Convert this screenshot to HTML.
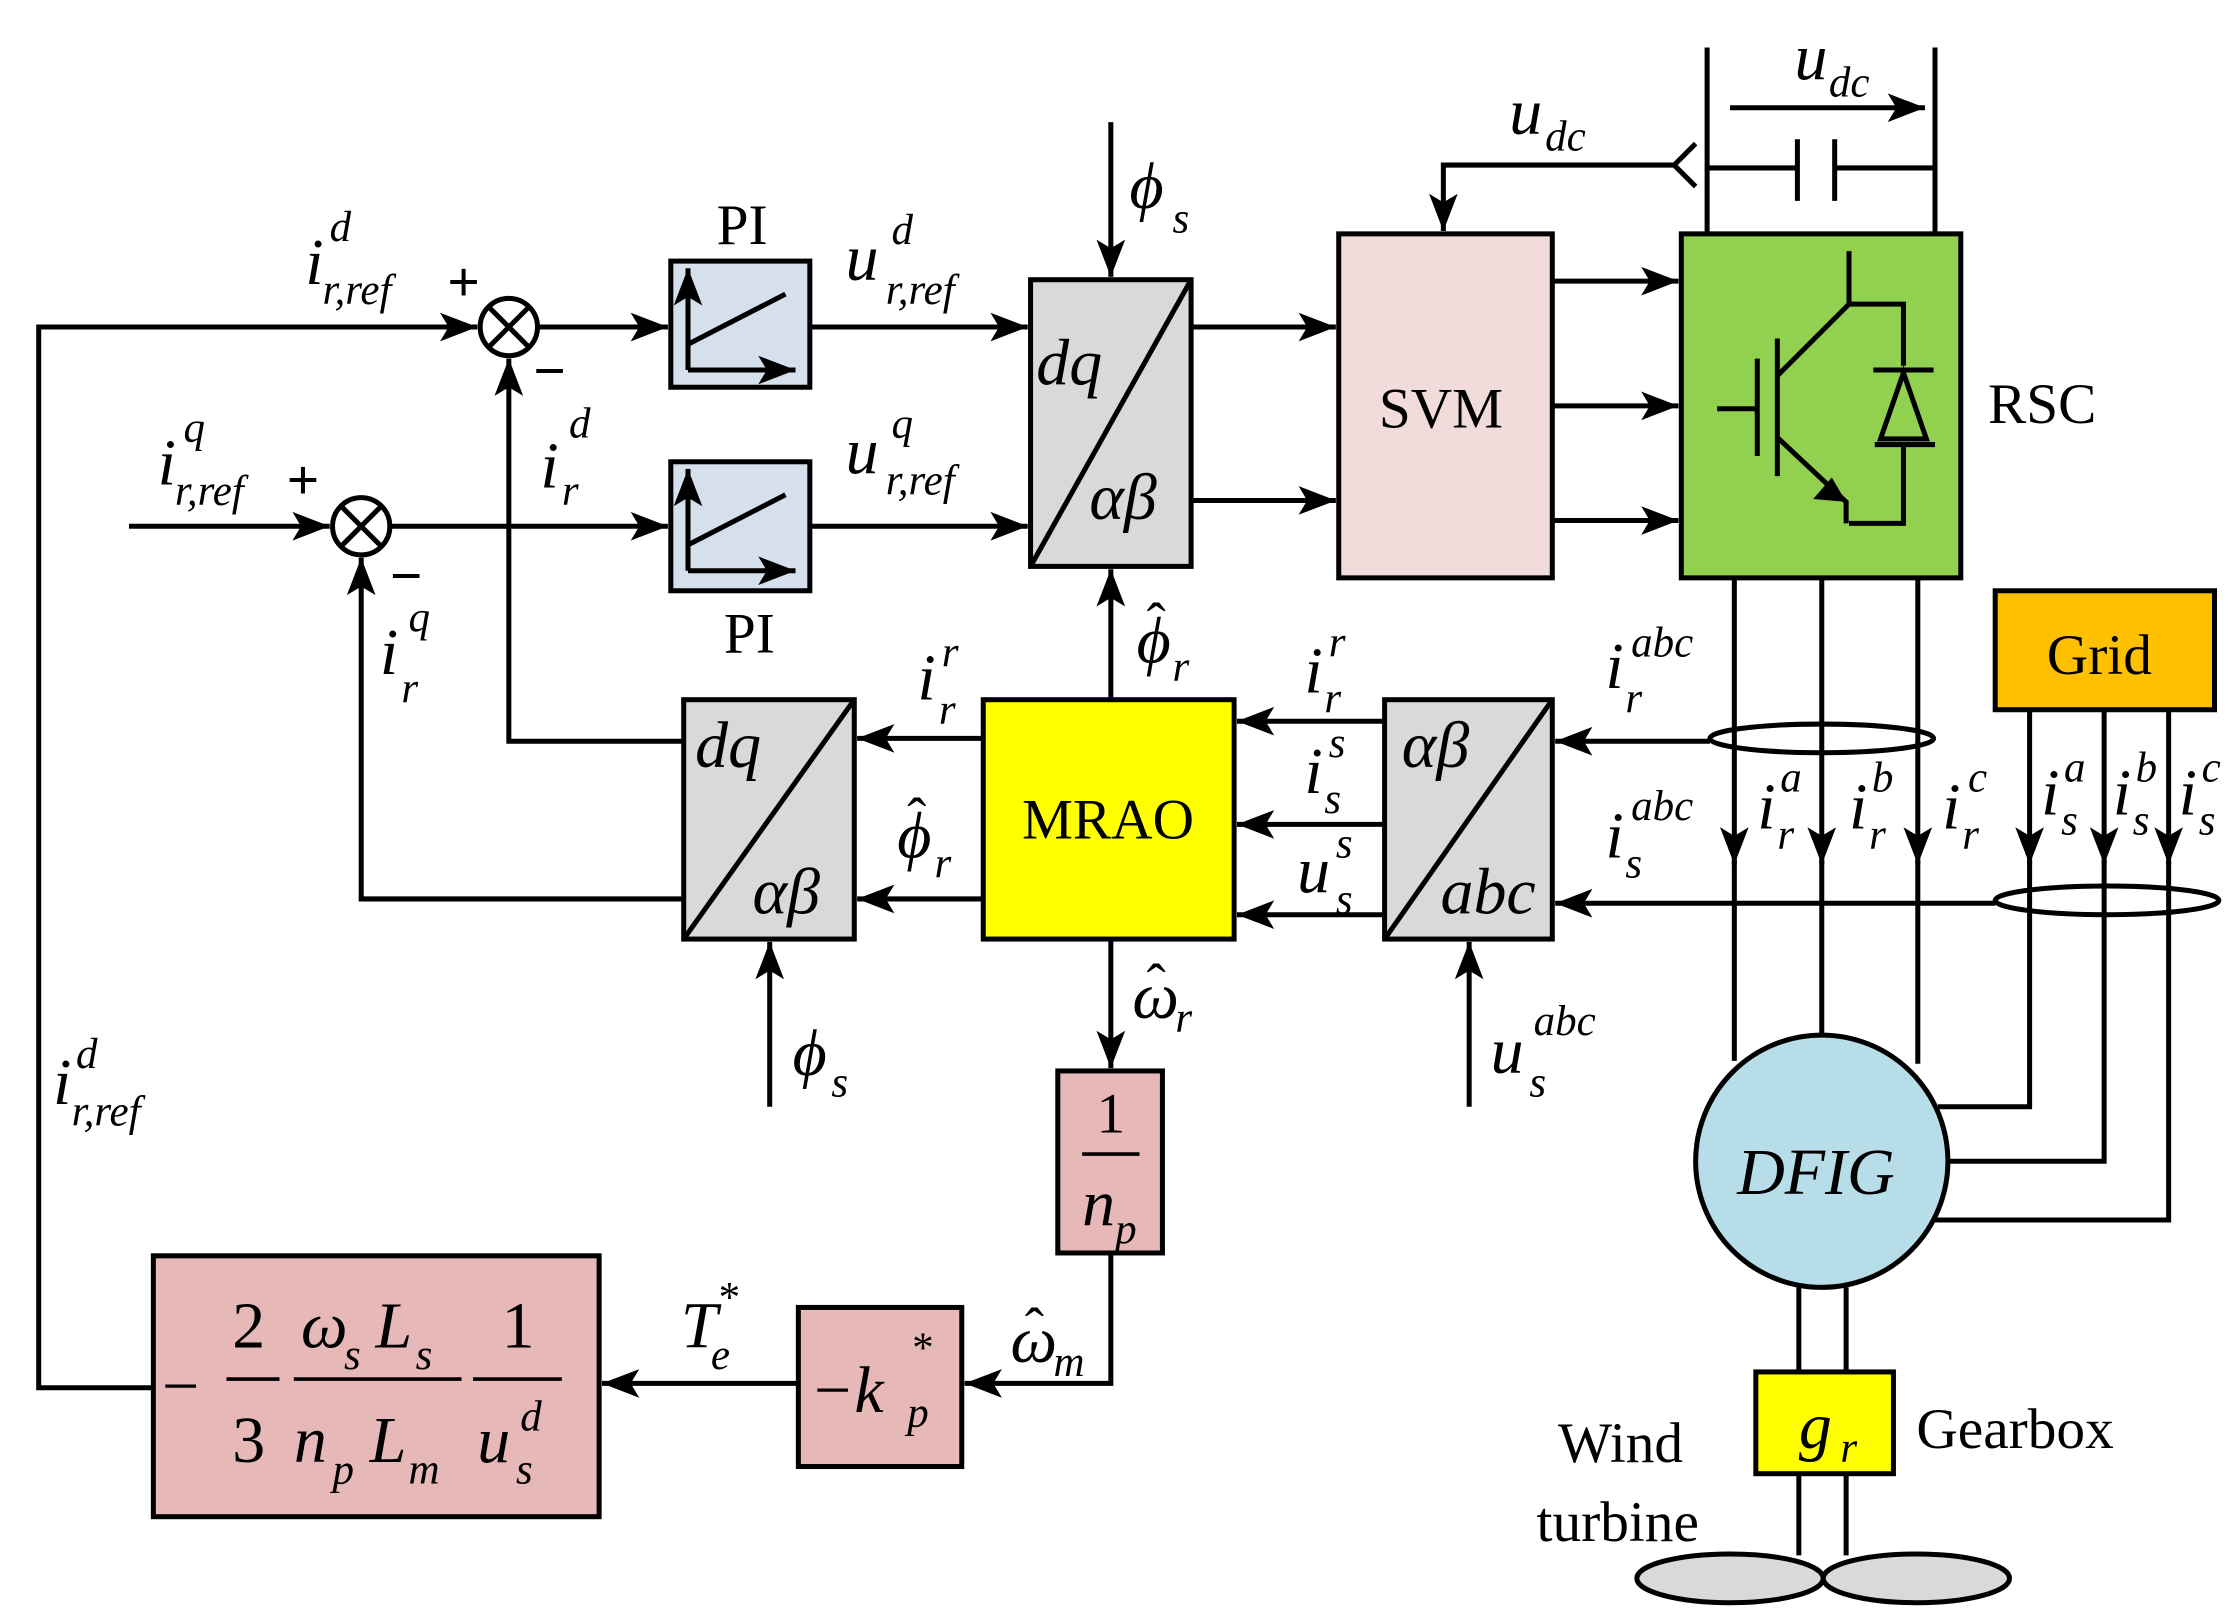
<!DOCTYPE html>
<html><head><meta charset="utf-8"><style>html,body{margin:0;padding:0;background:#fff}svg{display:block}
text{font-family:"Liberation Serif",serif;fill:#000}
.i{font-style:italic;font-size:46px}.s{font-style:italic;font-size:30px}.u{font-size:40px}.h{font-size:40px}
</style></head><body>
<svg width="2236" height="1623" viewBox="0 0 1560 1132" xmlns="http://www.w3.org/2000/svg">
<defs><marker id="a" viewBox="0 0 10 10" refX="10" refY="5" markerWidth="10" markerHeight="10" markerUnits="userSpaceOnUse" orient="auto" style="overflow:visible"><path d="M-16,-5 L10,5 L-16,15 L-10,5 Z" fill="#000"/></marker></defs>
<g stroke="#000" stroke-width="3.5" fill="none" marker-end="url(#a)">
<path d="M107,968 H27 V228 H333"/>
<path d="M90,367 H230"/>
<path d="M375,228 H466"/><path d="M565,228 H717"/>
<path d="M272,367 H466"/><path d="M565,367 H717"/>
<path d="M831,228 H932"/><path d="M831,349 H932"/>
<path d="M1083,196 H1171"/><path d="M1083,283 H1171"/><path d="M1083,363 H1171"/>
<path d="M775,85 V193"/>
<path d="M1170,115 H1007 V161"/>
<path d="M1207,75 H1343"/>
<path d="M1193,517 H1085"/><path d="M1392,630 H1085"/>
<path d="M966,503 H863"/><path d="M966,575 H863"/><path d="M966,638 H863"/>
<path d="M1025,772 V657"/>
<path d="M686,515 H598"/><path d="M686,627 H598"/>
<path d="M775,488 V397"/><path d="M775,655 V745"/>
<path d="M775,874 V965 H673"/><path d="M557,965 H420"/>
<path d="M537,772 V657"/>
<path d="M477,517 H355 V250"/><path d="M477,627 H252 V389"/>
<path d="M1210,403 V603"/><path d="M1271,403 V603"/><path d="M1338,403 V603"/>
<path d="M1416,495 V603"/><path d="M1468,495 V603"/><path d="M1513,495 V603"/>
</g>
<g stroke="#000" stroke-width="3.5" fill="none">
<path d="M1210,600 V740"/><path d="M1271,600 V722"/><path d="M1338,600 V742"/>
<path d="M1416,600 V772 H1352"/><path d="M1468,600 V810 H1359"/><path d="M1513,600 V851 H1350"/>
<path d="M1191,33 V163"/><path d="M1350,33 V163"/>
<path d="M1191,117 H1254 M1254,97 V140 M1280,97 V140 M1280,117 H1350"/>
<path d="M1183,100 L1168,115 L1183,130"/>
<path d="M1255,898 V957 M1288,898 V957 M1255,1028 V1085 M1288,1028 V1085"/>
</g>
<g stroke="#000" stroke-width="3.5">
<circle cx="355" cy="228" r="20" fill="#fff"/><path d="M341,214 L369,242 M369,214 L341,242"/>
<circle cx="252" cy="367" r="20" fill="#fff"/><path d="M238,353 L266,381 M266,353 L238,381"/>
<rect x="468" y="182" width="97" height="88" fill="#d6dfec"/>
<rect x="468" y="322" width="97" height="90" fill="#d6dfec"/>
<rect x="719" y="195" width="112" height="200" fill="#d9d9d9"/><path d="M719,395 L831,195"/>
<rect x="934" y="163" width="149" height="240" fill="#f2dcdb"/>
<rect x="1173" y="163" width="195" height="240" fill="#92d050"/>
<rect x="1392" y="412" width="153" height="83" fill="#ffc000"/>
<rect x="686" y="488" width="175" height="167" fill="#ffff00"/>
<rect x="966" y="488" width="117" height="167" fill="#d9d9d9"/><path d="M966,655 L1083,488"/>
<rect x="477" y="488" width="119" height="167" fill="#d9d9d9"/><path d="M477,655 L596,488"/>
<rect x="738" y="747" width="73" height="127" fill="#e6b8b7"/>
<rect x="557" y="912" width="114" height="111" fill="#e6b8b7"/>
<rect x="107" y="876" width="311" height="182" fill="#e6b8b7"/>
<circle cx="1271" cy="810" r="88" fill="#b7dde8"/>
<rect x="1225" y="957" width="96" height="71" fill="#ffff00"/>
<ellipse cx="1207" cy="1101" rx="65" ry="17" fill="#d9d9d9"/><ellipse cx="1337" cy="1101" rx="65" ry="17" fill="#d9d9d9"/>
<ellipse cx="1271" cy="515" rx="78" ry="10" fill="none"/><ellipse cx="1470" cy="628" rx="78" ry="10" fill="none"/>
</g>
<g stroke="#000" stroke-width="3.5" fill="none" marker-end="url(#a)">
<path d="M480,258 V187"/><path d="M480,258 H555"/><path d="M480,398 V327"/><path d="M480,398 H555"/>
</g>
<g stroke="#000" stroke-width="3.5" fill="none">
<path d="M480,240 L548,205"/><path d="M480,380 L548,345"/>
<path d="M1226,250 V318 M1240,236 V332 M1240,262 L1290,212 V175 M1290,212 H1328 V255 M1328,310 V365 H1290 M1240,305 L1288,350 V365 M1198,285 H1226"/>
<path d="M1308,310 H1350"/>
</g>
<path d="M1288,350 L1265,348 L1278,333 Z" fill="#000"/>
<path d="M1328,260 L1312,306 H1344 Z" fill="#92d050" stroke="#000" stroke-width="3.5"/>
<path d="M1307,258 H1349" stroke="#000" stroke-width="3.5"/>
<g stroke="#000" stroke-width="2.5"><path d="M158,962 H195 M205,962 H322 M330,962 H392 M755,805 H795"/></g>
<text class="i" x="213" y="198">i</text><text class="s" x="230" y="168">d</text><text class="s" x="225" y="212">r,ref</text>
<text x="312" y="210" style="font-size:40px;font-weight:bold">+</text><text x="372" y="272" style="font-size:40px;font-weight:bold">−</text>
<text class="i" x="110" y="338">i</text><text class="s" x="128" y="308">q</text><text class="s" x="122" y="352">r,ref</text>
<text x="200" y="348" style="font-size:40px;font-weight:bold">+</text><text x="272" y="415" style="font-size:40px;font-weight:bold">−</text>
<text class="i" x="377" y="340">i</text><text class="s" x="397" y="305">d</text><text class="s" x="392" y="352">r</text>
<text class="i" x="265" y="470">i</text><text class="s" x="285" y="440">q</text><text class="s" x="280" y="490">r</text>
<text class="u" x="500" y="170">PI</text><text class="u" x="505" y="455">PI</text>
<text class="i" x="590" y="195">u</text><text class="s" x="622" y="170">d</text><text class="s" x="618" y="212">r,ref</text>
<text class="i" x="590" y="330">u</text><text class="s" x="622" y="305">q</text><text class="s" x="618" y="345">r,ref</text>
<text class="i" x="788" y="145">ϕ</text><text class="s" x="818" y="162">s</text>
<text class="i" x="723" y="268">dq</text><text class="i" x="760" y="362">αβ</text>
<text class="u" x="962" y="298">SVM</text><text class="u" x="1387" y="295">RSC</text>
<text class="i" x="1053" y="93">u</text><text class="s" x="1078" y="105">dc</text>
<text class="i" x="1252" y="55">u</text><text class="s" x="1276" y="67">dc</text>
<text class="u" x="1428" y="470">Grid</text>
<text class="u" x="713" y="585">MRAO</text>
<text class="i" x="978" y="535">αβ</text><text class="i" x="1005" y="637">abc</text>
<text class="i" x="485" y="535">dq</text><text class="i" x="525" y="637">αβ</text>
<text class="i" x="910" y="483">i</text><text class="s" x="927" y="458">r</text><text class="s" x="924" y="497">r</text>
<text class="i" x="910" y="553">i</text><text class="s" x="927" y="528">s</text><text class="s" x="924" y="567">s</text>
<text class="i" x="905" y="622">u</text><text class="s" x="932" y="598">s</text><text class="s" x="932" y="637">s</text>
<text class="i" x="1120" y="480">i</text><text class="s" x="1138" y="458">abc</text><text class="s" x="1134" y="497">r</text>
<text class="i" x="1120" y="598">i</text><text class="s" x="1138" y="572">abc</text><text class="s" x="1134" y="612">s</text>
<text class="i" x="1226" y="578">i</text><text class="s" x="1242" y="552">a</text><text class="s" x="1240" y="592">r</text>
<text class="i" x="1290" y="578">i</text><text class="s" x="1306" y="552">b</text><text class="s" x="1304" y="592">r</text>
<text class="i" x="1355" y="578">i</text><text class="s" x="1373" y="552">c</text><text class="s" x="1369" y="592">r</text>
<text class="i" x="1424" y="568">i</text><text class="s" x="1440" y="545">a</text><text class="s" x="1438" y="582">s</text>
<text class="i" x="1474" y="568">i</text><text class="s" x="1490" y="545">b</text><text class="s" x="1488" y="582">s</text>
<text class="i" x="1520" y="568">i</text><text class="s" x="1536" y="545">c</text><text class="s" x="1534" y="582">s</text>
<text class="i" x="793" y="462">ϕ</text><text class="h" x="800" y="448">ˆ</text><text class="s" x="818" y="475">r</text>
<text class="i" x="640" y="488">i</text><text class="s" x="657" y="465">r</text><text class="s" x="655" y="505">r</text>
<text class="i" x="626" y="598">ϕ</text><text class="h" x="633" y="584">ˆ</text><text class="s" x="652" y="612">r</text>
<text class="i" x="790" y="710">ω</text><text class="h" x="800" y="700">ˆ</text><text class="s" x="820" y="720">r</text>
<text class="i" x="705" y="950">ω</text><text class="h" x="715" y="940">ˆ</text><text class="s" x="735" y="960">m</text>
<text class="i" x="475" y="940">T</text><text class="s" x="500" y="915">*</text><text class="s" x="496" y="955">e</text>
<text class="i" x="553" y="750">ϕ</text><text class="s" x="580" y="765">s</text>
<text class="i" x="1040" y="748">u</text><text class="s" x="1070" y="722">abc</text><text class="s" x="1067" y="765">s</text>
<text class="i" x="37" y="770">i</text><text class="s" x="53" y="745">d</text><text class="s" x="50" y="785">r,ref</text>
<text class="u" x="765" y="790">1</text><text class="i" x="755" y="855">n</text><text class="s" x="778" y="867">p</text>
<text class="i" x="565" y="985">−k</text><text class="s" x="635" y="950">*</text><text class="s" x="633" y="995">p</text>
<text class="i" x="113" y="982" style="font-style:normal">−</text>
<text class="i" x="162" y="940" style="font-style:normal">2</text><text class="i" x="162" y="1020" style="font-style:normal">3</text>
<text class="i" x="210" y="940">ω</text><text class="s" x="240" y="955">s</text><text class="i" x="262" y="940">L</text><text class="s" x="290" y="955">s</text>
<text class="i" x="205" y="1020">n</text><text class="s" x="232" y="1035">p</text><text class="i" x="258" y="1020">L</text><text class="s" x="285" y="1035">m</text>
<text class="i" x="350" y="940" style="font-style:normal">1</text>
<text class="i" x="333" y="1020">u</text><text class="s" x="363" y="998">d</text><text class="s" x="360" y="1035">s</text>
<text class="i" x="1212" y="833">DFIG</text>
<text class="i" x="1255" y="1010">g</text><text class="s" x="1284" y="1020">r</text>
<text class="u" x="1087" y="1020">Wind</text><text class="u" x="1072" y="1075">turbine</text>
<text class="u" x="1337" y="1010">Gearbox</text>
</svg>
</body></html>
